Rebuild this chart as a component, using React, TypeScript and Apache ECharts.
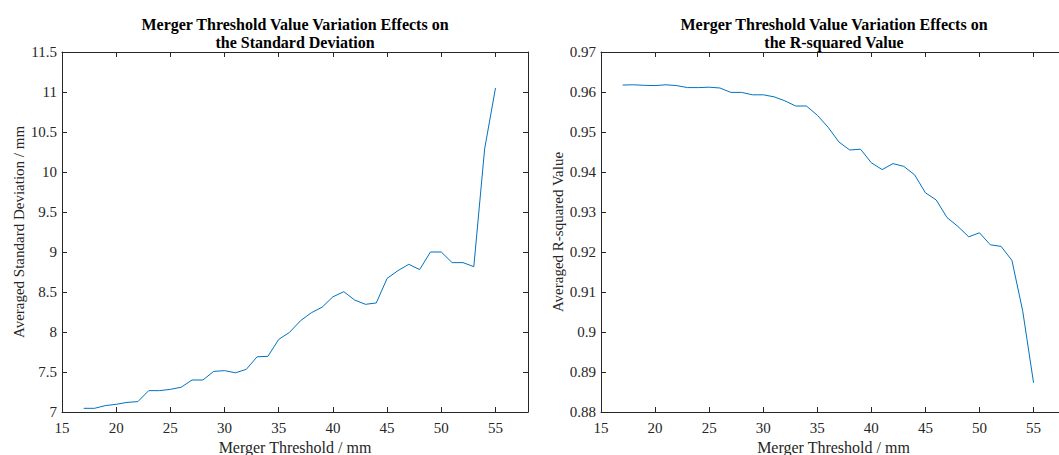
import React, { useEffect, useRef } from "react";
import * as echarts from "echarts";

const thresholds = [17, 18, 19, 20, 21, 22, 23, 24, 25, 26, 27, 28, 29, 30, 31, 32, 33, 34, 35, 36, 37, 38, 39, 40, 41, 42, 43, 44, 45, 46, 47, 48, 49, 50, 51, 52, 53, 54, 55];

const stdDev = [7.046, 7.046, 7.08, 7.096, 7.12, 7.13, 7.267, 7.267, 7.283, 7.31, 7.4, 7.4, 7.508, 7.517, 7.49, 7.533, 7.69, 7.696, 7.908, 7.996, 8.14, 8.24, 8.31, 8.44, 8.504, 8.4, 8.346, 8.363, 8.67, 8.767, 8.846, 8.78, 9.0, 9.0, 8.867, 8.867, 8.817, 10.29, 11.05];

const rSquared = [0.96175, 0.9618, 0.96167, 0.9616, 0.9618, 0.9616, 0.9611, 0.9611, 0.9612, 0.961, 0.9599, 0.9599, 0.9593, 0.9593, 0.9588, 0.9578, 0.9565, 0.9565, 0.9542, 0.9512, 0.9475, 0.9455, 0.9457, 0.9423, 0.9406, 0.9421, 0.9414, 0.9393, 0.9348, 0.933, 0.9286, 0.9264, 0.9238, 0.9248, 0.9218, 0.9214, 0.9179, 0.9052, 0.8873];

const leftTitle = "Merger Threshold Value Variation Effects on\nthe Standard Deviation";
const rightTitle = "Merger Threshold Value Variation Effects on\nthe R-squared Value";
const xName = "Merger Threshold / mm";
const leftYName = "Averaged Standard Deviation / mm";
const rightYName = "Averaged R-squared Value";

const FONT = "Liberation Serif";
const AXIS = "#262626";
const LINE = "#0072BD";

export default function App() {
  const ref = useRef<HTMLDivElement>(null);

  useEffect(() => {
    if (!ref.current) return;
    const chart = echarts.init(ref.current, undefined, { renderer: "svg" });

    const baseX = (gridIndex: number, pos: "bottom" | "top", withName: boolean) => ({
      type: "value",
      gridIndex,
      position: pos,
      min: 15,
      max: 58,
      interval: 5,
      name: withName ? xName : "",
      nameLocation: "middle",
      nameGap: 23,
      nameTextStyle: { fontFamily: FONT, fontSize: 16, color: AXIS },
      axisLine: { show: true, onZero: false, lineStyle: { color: AXIS, width: 1 } },
      axisTick: { show: true, inside: true, length: 5, lineStyle: { color: AXIS } },
      axisLabel: {
        show: pos === "bottom",
        fontFamily: FONT,
        fontSize: 15,
        color: AXIS,
        margin: 8,
        showMaxLabel: false,
      },
      splitLine: { show: false },
    });

    const baseY = (
      gridIndex: number,
      pos: "left" | "right",
      min: number,
      max: number,
      interval: number,
      name: string,
      nameGap: number
    ) => ({
      type: "value",
      gridIndex,
      position: pos,
      min,
      max,
      interval,
      name,
      nameLocation: "middle",
      nameRotate: 90,
      nameGap,
      nameTextStyle: { fontFamily: FONT, fontSize: 15, color: AXIS },
      axisLine: { show: true, onZero: false, lineStyle: { color: AXIS, width: 1 } },
      axisTick: { show: true, inside: true, length: 5, lineStyle: { color: AXIS } },
      axisLabel: {
        show: pos === "left",
        fontFamily: FONT,
        fontSize: 15,
        color: AXIS,
        margin: 5,
      },
      splitLine: { show: false },
    });

    chart.setOption({
      animation: false,
      backgroundColor: "#ffffff",
      title: [
        {
          text: leftTitle,
          left: 295,
          top: 15,
          padding: 0,
          textAlign: "center",
          textStyle: { fontFamily: FONT, fontSize: 16, fontWeight: "bold", color: "#000", lineHeight: 18 },
        },
        {
          text: rightTitle,
          left: 834,
          top: 15,
          padding: 0,
          textAlign: "center",
          textStyle: { fontFamily: FONT, fontSize: 16, fontWeight: "bold", color: "#000", lineHeight: 18 },
        },
      ],
      grid: [
        { left: 62, top: 52, width: 466, height: 360, outerBoundsMode: "none", containLabel: false },
        { left: 601, top: 52, width: 465, height: 360, outerBoundsMode: "none", containLabel: false },
      ],
      xAxis: [
        baseX(0, "bottom", true),
        baseX(0, "top", false),
        baseX(1, "bottom", true),
        baseX(1, "top", false),
      ],
      yAxis: [
        baseY(0, "left", 7, 11.5, 0.5, leftYName, 29),
        baseY(0, "right", 7, 11.5, 0.5, "", 0),
        baseY(1, "left", 0.88, 0.97, 0.01, rightYName, 36),
        baseY(1, "right", 0.88, 0.97, 0.01, "", 0),
      ],
      series: [
        {
          type: "line",
          xAxisIndex: 0,
          yAxisIndex: 0,
          data: thresholds.map((t, i) => [t, stdDev[i]]),
          showSymbol: false,
          lineStyle: { color: LINE, width: 1 },
          itemStyle: { color: LINE },
        },
        {
          type: "line",
          xAxisIndex: 2,
          yAxisIndex: 2,
          data: thresholds.map((t, i) => [t, rSquared[i]]),
          showSymbol: false,
          lineStyle: { color: LINE, width: 1 },
          itemStyle: { color: LINE },
        },
      ],
    });

    return () => chart.dispose();
  }, []);

  return (
    <div
      ref={ref}
      style={{ position: "fixed", left: 0, top: 0, width: 1059, height: 455, background: "#fff" }}
    />
  );
}
